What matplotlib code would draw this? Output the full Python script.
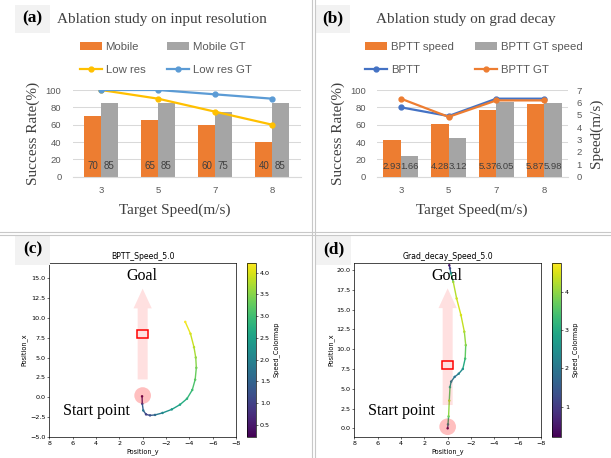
import numpy as np
import matplotlib
matplotlib.use('Agg')
import matplotlib.pyplot as plt
from matplotlib.patches import Rectangle, Ellipse
from matplotlib.lines import Line2D
from matplotlib.collections import LineCollection
from matplotlib.colors import Normalize

# 数据 (a)
speeds = ['3', '5', '7', '8']
mobile = [70, 65, 60, 40]
mobile_gt = [85, 85, 75, 85]
low_res = [100, 90, 75, 60]
low_res_gt = [100, 100, 95, 90]

# 数据 (b)
bptt_speed = [2.93, 4.28, 5.37, 5.87]
bptt_gt_speed = [1.66, 3.12, 6.05, 5.98]
bptt = [80, 70, 90, 90]
bptt_gt = [90, 69, 88, 88]

# 轨迹 (c)
traj_c_y = [0.05, 0.03, -0.05, -0.29, -0.63, -1.06, -1.7, -2.5, -3.2, -3.8, -4.25, -4.5, -4.6, -4.55, -4.4, -4.1, -3.65]
traj_c_x = [0.1, -0.84, -1.68, -2.18, -2.31, -2.25, -2.0, -1.55, -0.95, -0.2, 0.9, 2.2, 3.7, 5.0, 6.3, 8.0, 9.5]
traj_c_v = [0.3, 1.0, 1.8, 1.0, 1.2, 1.6, 2.1, 2.4, 2.6, 2.8, 3.0, 3.2, 3.4, 3.6, 3.8, 4.0, 4.2]

# 轨迹 (d)
traj_d_y = [0.0, -0.03, -0.08, -0.14, -0.2, -0.3, -0.6, -0.95, -1.3, -1.5, -1.55, -1.43, -1.14, -0.77, -0.48, -0.27, -0.2, -0.14]
traj_d_x = [0.0, 0.5, 1.5, 3.5, 5.2, 5.9, 6.5, 6.9, 7.5, 8.8, 10.5, 12.2, 14.3, 16.4, 18.5, 19.6, 20.2, 20.6]
traj_d_v = [0.3, 2.5, 3.8, 4.2, 3.0, 2.2, 1.9, 2.2, 2.6, 3.4, 3.9, 4.2, 4.5, 4.4, 4.1, 2.5, 1.2, 0.5]

ORANGE = '#ED7D31'
GRAY = '#A5A5A5'
YELLOW = '#FFC000'
BLUE = '#5B9BD5'
DBLUE = '#4472C4'
SERIF = ['Liberation Serif', 'DejaVu Serif']
SANS = ['Liberation Sans', 'DejaVu Sans']

W, H = 611, 458
fig = plt.figure(figsize=(W / 100, H / 100), dpi=100)
fig.patch.set_facecolor('white')


def box(x0, y0, x1, y1):
    return [x0 / W, 1 - y1 / H, (x1 - x0) / W, (y1 - y0) / H]


def ftext(x, y, s, **kw):
    fig.text(x / W, 1 - y / H, s, ha='center', va='center', **kw)


# 分隔线
for xv in [312.3, 315]:
    fig.add_artist(Line2D([xv / W] * 2, [0, 1], color='#c8c8c8', lw=0.8))
for yv in [231.7, 234.7]:
    fig.add_artist(Line2D([0, 1], [1 - yv / H] * 2, color='#c8c8c8', lw=0.8))

# 面板标签
for (x0, y0, x1, y1), lab in [((15, 5, 50, 33), '(a)'), ((316, 5, 350, 33), '(b)'),
                             ((15, 235, 50, 265), '(c)'), ((316, 235, 351, 265), '(d)')]:
    fig.add_artist(Rectangle((x0 / W, 1 - y1 / H), (x1 - x0) / W, (y1 - y0) / H,
                             transform=fig.transFigure, facecolor='#f2f2f2', edgecolor='none'))
    ftext((x0 + x1) / 2, (y0 + y1) / 2 - 0.5, lab, family=SERIF, fontsize=12.5, fontweight='bold')

ftext(161.5, 19, 'Ablation study on input resolution', family=SERIF, fontsize=11, color='#404040')
ftext(465.8, 19, 'Ablation study on grad decay', family=SERIF, fontsize=11, color='#404040')


def excel_axes(ax):
    ax.set_ylim(0, 100)
    ax.set_yticks(range(0, 101, 20))
    ax.set_xlim(-0.5, 3.5)
    ax.set_xticks(range(len(speeds)), speeds)
    ax.grid(axis='y', color='#d9d9d9', lw=0.75)
    ax.set_axisbelow(True)
    for s in ['top', 'right', 'left']:
        ax.spines[s].set_visible(False)
    ax.spines['bottom'].set_color('#d9d9d9')
    ax.tick_params(length=0, labelsize=6.8, colors='#595959')
    ax.tick_params(axis='y', pad=8)
    ax.tick_params(axis='x', pad=6.5)
    for t in ax.get_xticklabels() + ax.get_yticklabels():
        t.set_family(SANS)


def legend(ax, handles, labels, left):
    ax.legend(handles, labels, ncol=2, frameon=False,
              loc='upper left', bbox_to_anchor=(left / W, 1 - 41.5 / H), bbox_transform=fig.transFigure,
              borderpad=0, borderaxespad=0, handlelength=1.9, handletextpad=0.35,
              columnspacing=1.9, labelspacing=1.15, prop={'family': SANS, 'size': 8.2},
              labelcolor='#595959')


x = np.arange(len(speeds))

# (a)
ax_a = fig.add_axes(box(72.5, 90, 300.5, 176.7))
w = 0.29
ax_a.bar(x - w / 2, mobile, w, color=ORANGE, label='Mobile')
ax_a.bar(x + w / 2, mobile_gt, w, color=GRAY, label='Mobile GT')
ax_a.plot(x, low_res, color=YELLOW, lw=1.6, marker='o', ms=3.5, label='Low res')
ax_a.plot(x, low_res_gt, color=BLUE, lw=1.6, marker='o', ms=3.5, label='Low res GT')
excel_axes(ax_a)
for i in range(len(x)):
    ax_a.text(x[i] - w / 2, 12, str(mobile[i]), ha='center', va='center', fontsize=7, color='#404040', family=SANS)
    ax_a.text(x[i] + w / 2, 12, str(mobile_gt[i]), ha='center', va='center', fontsize=7, color='#404040', family=SANS)
ax_a.text(-0.173, 0.5, 'Success Rate(%)', transform=ax_a.transAxes, rotation=90,
          ha='center', va='center', family=SERIF, fontsize=11, color='#404040')
ax_a.text(0.45, -0.384, 'Target Speed(m/s)', transform=ax_a.transAxes,
          ha='center', va='center', family=SERIF, fontsize=11, color='#404040')
h, l = ax_a.get_legend_handles_labels()
order = [2, 0, 3, 1]
legend(ax_a, [h[i] for i in order], [l[i] for i in order], 80)

# (b)
ax_b = fig.add_axes(box(377, 90, 568, 176.7))
ax_b2 = ax_b.twinx()
ax_b3 = ax_b.twinx()
wb = 0.367
ax_b2.bar(x - wb / 2, bptt_speed, wb, color=ORANGE, label='BPTT speed')
ax_b2.bar(x + wb / 2, bptt_gt_speed, wb, color=GRAY, label='BPTT GT speed')
ax_b3.plot(x, bptt, color=DBLUE, lw=1.6, marker='o', ms=3.5, label='BPTT')
ax_b3.plot(x, bptt_gt, color=ORANGE, lw=1.6, marker='o', ms=3.5, label='BPTT GT')
excel_axes(ax_b)
ax_b2.set_ylim(0, 7)
ax_b2.set_yticks(range(0, 8))
for s in ax_b2.spines.values():
    s.set_visible(False)
ax_b2.tick_params(length=0, labelsize=6.8, colors='#595959', pad=6)
for t in ax_b2.get_yticklabels():
    t.set_family(SANS)
ax_b3.set_ylim(0, 100)
ax_b3.axis('off')
for i in range(len(x)):
    ax_b3.text(x[i] - wb / 2, 12, f'{bptt_speed[i]:.2f}', ha='center', va='center', fontsize=6.8, color='#404040', family=SANS)
    ax_b3.text(x[i] + wb / 2, 12, f'{bptt_gt_speed[i]:.2f}', ha='center', va='center', fontsize=6.8, color='#404040', family=SANS)
ax_b.text(-0.203, 0.5, 'Success Rate(%)', transform=ax_b.transAxes, rotation=90,
          ha='center', va='center', family=SERIF, fontsize=11, color='#404040')
ax_b.text(1.150, 0.5, 'Speed(m/s)', transform=ax_b.transAxes, rotation=90,
          ha='center', va='center', family=SERIF, fontsize=11, color='#404040')
ax_b.text(0.496, -0.384, 'Target Speed(m/s)', transform=ax_b.transAxes,
          ha='center', va='center', family=SERIF, fontsize=11, color='#404040')
h1, l1 = ax_b2.get_legend_handles_labels()
h2, l2 = ax_b3.get_legend_handles_labels()
legend(ax_b3, [h1[0], h2[0], h1[1], h2[1]], [l1[0], l2[0], l1[1], l2[1]], 365)


# (c)(d) 轨迹图
def traj_panel(x0, title, ty, tx, tv, ylim, yticks, vmin, vmax, cticks, tail, tip):
    ax = fig.add_axes(box(x0, 262.7, x0 + 186.7, 436.7))
    cax = fig.add_axes(box(x0 + 198, 262.7, x0 + 206.7, 436.7))
    norm = Normalize(vmin, vmax)
    pts = np.column_stack([ty, tx])
    segs = np.stack([pts[:-1], pts[1:]], axis=1)
    lc = LineCollection(segs, cmap='viridis', norm=norm, lw=1.0)
    lc.set_array((np.array(tv[:-1]) + np.array(tv[1:])) / 2)
    ax.add_collection(lc)
    ax.scatter(ty, tx, c=tv, cmap='viridis', norm=norm, s=0.6, zorder=3)
    ax.set_xlim(8, -8)
    ax.set_ylim(*ylim)
    ax.set_xticks(range(8, -9, -2))
    ax.set_yticks(yticks)
    ax.set_yticklabels([f'{v:.1f}'.replace('-', '\u2212') for v in yticks])
    ax.arrow(0, tail, 0, tip - tail, width=0.86, head_width=1.57, head_length=2.5,
             length_includes_head=True, color='red', alpha=0.12, lw=0, zorder=4)
    ax.add_patch(Ellipse((0, 0.2), 1.43, 2.1, color='red', alpha=0.25, lw=0, zorder=4))
    ax.add_patch(Rectangle((-0.5, 7.5), 1.0, 1.0, fill=False, edgecolor='red', lw=1.1, zorder=5))
    ax.text(0.495, 0.925, 'Goal', transform=ax.transAxes, ha='center', va='center',
            family=SERIF, fontsize=11.5, zorder=6)
    ax.text(0.25, 0.149, 'Start point', transform=ax.transAxes, ha='center', va='center',
            family=SERIF, fontsize=11.5, zorder=6)
    ax.set_title(title, fontsize=5.6, pad=2.5)
    ax.set_xlabel('Position_y', fontsize=4.7, labelpad=1.5)
    ax.set_ylabel('Position_x', fontsize=4.7, labelpad=1.5)
    ax.tick_params(labelsize=4.6, length=1.7, width=0.4, pad=1.2)
    for s in ax.spines.values():
        s.set_linewidth(0.5)
    cb = fig.colorbar(plt.cm.ScalarMappable(norm=norm, cmap='viridis'), cax=cax)
    cb.set_ticks(cticks)
    cb.outline.set_linewidth(0.5)
    cb.ax.tick_params(labelsize=4.6, length=1.7, width=0.4, pad=1.2)
    cb.set_label('Speed_Colormap', fontsize=4.7, labelpad=2)
    return ax


traj_panel(49.3, 'BPTT_Speed_5.0', traj_c_y, traj_c_x, traj_c_v, (-5.0, 16.97),
           np.arange(-5, 15.1, 2.5), 0.23, 4.23, np.arange(0.5, 4.01, 0.5), 2.23, 13.7)
traj_panel(354.3, 'Grad_decay_Speed_5.0', traj_d_y, traj_d_x, traj_d_v, (-1.06, 20.92),
           np.arange(0, 20.1, 2.5), 0.22, 4.76, [1, 2, 3, 4], 2.94, 17.68)

fig.savefig('out.png', dpi=100)
